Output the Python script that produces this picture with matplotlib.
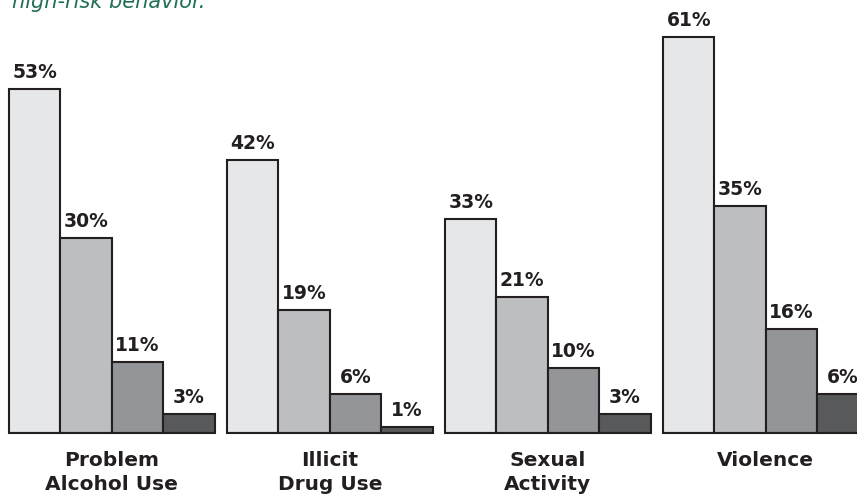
import numpy as np
import matplotlib.pyplot as plt

categories = ["Problem\nAlcohol Use", "Illicit\nDrug Use", "Sexual\nActivity", "Violence"]
series_1 = [53, 42, 33, 61]
series_2 = [30, 19, 21, 35]
series_3 = [11, 6, 10, 16]
series_4 = [3, 1, 3, 6]
title = "high-risk behavior."

colors = ["#e6e7e8", "#bcbec0", "#939598", "#58595b"]
edge = "#231f20"

W, H = 857, 499
fig = plt.figure(figsize=(W / 100, H / 100), dpi=100)
# baseline sits 66 px above the bottom edge, 6.5 px per percent
ax = fig.add_axes([0, 66 / H, 1, 1 - 66 / H])
ax.set_ylim(0, (H - 66) / 6.5)
bw = 51.4
ax.set_xlim(0, W / bw)
ax.axis("off")

series = [series_1, series_2, series_3, series_4]
starts = np.array([9, 227, 445, 663]) / bw
for g in range(len(categories)):
    for i, s in enumerate(series):
        x = starts[g] + i + 0.5
        ax.bar(x, s[g], width=1, color=colors[i], edgecolor=edge, linewidth=1.5,
               clip_on=False)
        ax.annotate(f"{s[g]}%", (x, s[g]), xytext=(0, 5), textcoords="offset points",
                    ha="center", va="bottom", fontsize=13.5, fontweight="bold",
                    color="#231f20")
    ax.plot([starts[g], starts[g] + 4], [0, 0], color=edge, lw=1.5, solid_capstyle="butt")
    ax.annotate(categories[g], (starts[g] + 2, 0), xytext=(0, -13), textcoords="offset points",
                ha="center", va="top", fontsize=14.5, fontweight="bold", color="#231f20",
                linespacing=1.3)

# the heading is cut by the top edge in the original too
fig.text(12 / W, 1 - 8 / H, title, color="#1f6e55", fontsize=15, style="italic",
         ha="left", va="baseline")

fig.savefig("out.png", dpi=100)
